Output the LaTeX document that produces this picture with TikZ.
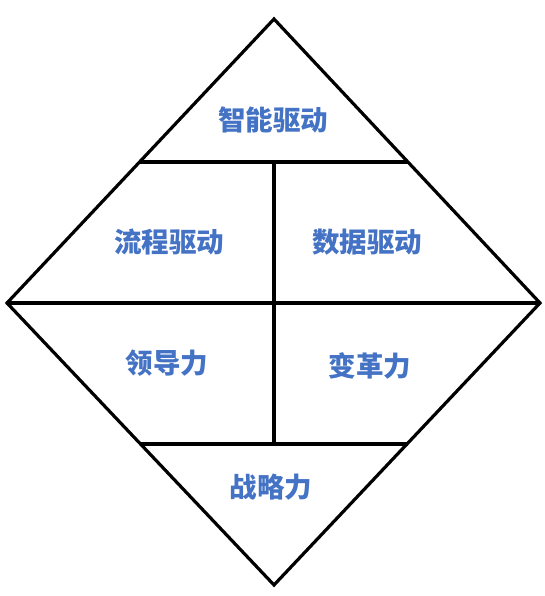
\documentclass[tikz,border=0pt]{standalone}
\usepackage{fontspec}
\newfontfamily\cjk{Noto Sans CJK SC}
\definecolor{driveblue}{HTML}{4472C4}

\begin{document}
\begin{tikzpicture}
    [x=1pt,y=-1pt,line width=3.2pt,
     every node/.style={font=\cjk\bfseries\fontsize{27.5}{30}\selectfont,text=driveblue}]
    \useasboundingbox (0,0) rectangle (545,596);

    \coordinate (top) at (274,19);
    \coordinate (left) at (7,303);
    \coordinate (right) at (540,303);
    \coordinate (bottom) at (274,585);
    \coordinate (ul) at (140,162);
    \coordinate (um) at (274,162);
    \coordinate (ur) at (408,162);
    \coordinate (ll) at (140,444);
    \coordinate (lm) at (274,444);
    \coordinate (lr) at (408,444);

    \draw (top) -- (right) -- (bottom) -- (left) -- cycle;
    \draw (left) -- (right);
    \draw (ul) -- (ur);
    \draw (ll) -- (lr);
    \draw (um) -- (lm);

    \node (smart) at (273,120) {智能驱动};
    \node (flow) at (169,242) {流程驱动};
    \node (data) at (367,242) {数据驱动};
    \node (lead) at (167,363) {领导力};
    \node (change) at (370,366) {变革力};
    \node (strategy) at (271,487) {战略力};
  \end{tikzpicture}
\end{document}
